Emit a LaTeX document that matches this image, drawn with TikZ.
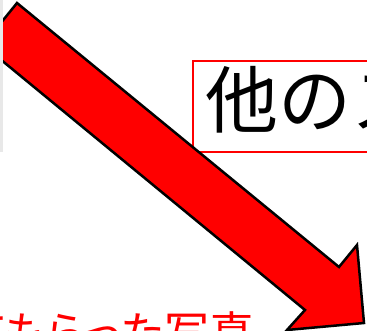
\documentclass[tikz,border=0pt]{standalone}
\usepackage{fontspec}
\newfontfamily\jpfont{Noto Sans CJK JP}
\newfontfamily\jpfontp[RawFeature=+palt]{Noto Sans CJK JP}
\tikzset{
  bigarrow/.style={draw=black, fill=red, line width=2.5pt, line join=miter},
  redbox/.style={draw=red, line width=2pt, fill=none},
  strip/.style={fill=black!9, draw=none},
}
\begin{document}
\begin{tikzpicture}[x=1pt,y=-1pt]
\useasboundingbox (0,0) rectangle (367,331);
\clip (0,0) rectangle (367,331);
\fill[white] (0,0) rectangle (367,331);
% red box (extends beyond right edge)
\node[redbox, anchor=north west, minimum width=220pt, minimum height=91pt, inner sep=0pt] (box) at (192,60.5) {};
\node[anchor=base west, inner sep=0pt, font=\jpfont\fontsize{73pt}{80pt}\selectfont] (title) at (205,128) {他のス};
% bottom caption
\node[anchor=base east, inner sep=0pt, text=red, font=\jpfontp\fontsize{45pt}{50pt}\selectfont] (caption) at (255,349) {てもらった写真};
% big arrow
\coordinate (a1) at (17,3);
\coordinate (a2) at (339,267);
\coordinate (a3) at (357,245);
\coordinate (a4) at (364,323);
\coordinate (a5) at (287,330);
\coordinate (a6) at (305,310);
\coordinate (a7) at (-17,45);
\draw[bigarrow] (a1) -- (a2) -- (a3) -- (a4) -- (a5) -- (a6) -- (a7) -- cycle;
% grey strip at left edge
\fill[strip] (0,0) rectangle (3,152);
\end{tikzpicture}
\end{document}
